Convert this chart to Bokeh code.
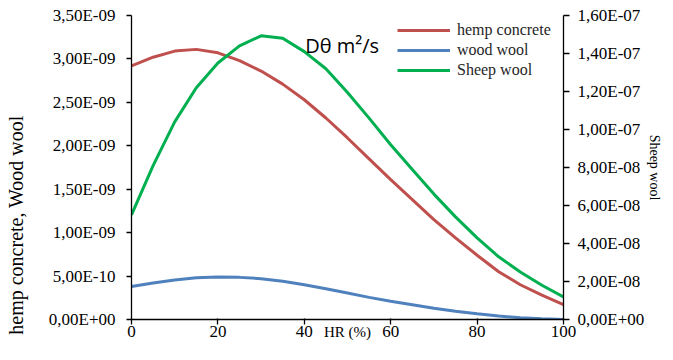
import numpy as np
from bokeh.plotting import figure
from bokeh.models import (Range1d, LinearAxis, FixedTicker, CustomJSTickFormatter,
                          Legend, LegendItem, Label)
from bokeh.embed import file_html
from bokeh.resources import INLINE

# ---- data -------------------------------------------------------------
hr = [0, 5, 10, 15, 20, 25, 30, 35, 40, 45, 50, 55, 60, 65, 70, 75, 80, 85, 90, 95, 100]
hemp_concrete = [2.92e-9, 3.02e-9, 3.09e-9, 3.11e-9, 3.07e-9, 2.98e-9, 2.86e-9, 2.71e-9,
                 2.53e-9, 2.32e-9, 2.09e-9, 1.85e-9, 1.61e-9, 1.38e-9, 1.15e-9, 0.94e-9,
                 0.74e-9, 0.55e-9, 0.40e-9, 0.28e-9, 0.17e-9]
wood_wool = [0.38e-9, 0.42e-9, 0.455e-9, 0.48e-9, 0.49e-9, 0.485e-9, 0.47e-9, 0.44e-9,
             0.40e-9, 0.355e-9, 0.305e-9, 0.255e-9, 0.21e-9, 0.17e-9, 0.13e-9, 0.095e-9,
             0.065e-9, 0.04e-9, 0.02e-9, 0.008e-9, 0.0]
sheep_wool = [5.51e-8, 8.1e-8, 10.4e-8, 12.2e-8, 13.5e-8, 14.4e-8, 14.93e-8, 14.8e-8,
              14.1e-8, 13.2e-8, 11.95e-8, 10.6e-8, 9.2e-8, 7.9e-8, 6.6e-8, 5.4e-8,
              4.3e-8, 3.3e-8, 2.5e-8, 1.8e-8, 1.19e-8]

x_ticks = [0, 20, 40, 60, 80, 100]
left_ticks = [0, 0.5e-9, 1.0e-9, 1.5e-9, 2.0e-9, 2.5e-9, 3.0e-9, 3.5e-9]
right_ticks = [0, 2e-8, 4e-8, 6e-8, 8e-8, 10e-8, 12e-8, 14e-8, 16e-8]

series_names = ["hemp concrete", "wood wool", "Sheep wool"]
series_colors = ["#C0504D", "#4F81BD", "#00B050"]

title_text = "D\u03b8 m\u00b2/s"
x_label = "HR (%)"
left_label = "hemp concrete,  Wood wool"
right_label = "Sheep wool"

SERIF = "Liberation Serif"

# ---- figure -----------------------------------------------------------
p = figure(width=665, height=344, output_backend="svg", toolbar_location=None,
           x_range=Range1d(0, 100), y_range=Range1d(0, 3.5e-9),
           min_border_left=131, min_border_right=101, min_border_top=15,
           min_border_bottom=25)
p.extra_y_ranges = {"sheep": Range1d(0, 1.6e-7)}
p.outline_line_color = None
p.xgrid.visible = False
p.ygrid.visible = False
p.background_fill_color = "white"
p.border_fill_color = "white"

fmt = CustomJSTickFormatter(code="""
const s = tick.toExponential(2);
const parts = s.split('e');
const ei = parseInt(parts[1]);
const sign = ei < 0 ? '-' : '+';
const ea = Math.abs(ei).toString().padStart(2, '0');
return parts[0].replace('.', ',') + 'E' + sign + ea;
""")

def style_axis(ax):
    ax.axis_line_color = "black"
    ax.axis_line_width = 1.3
    ax.major_tick_line_color = "black"
    ax.major_tick_line_width = 1.3
    ax.minor_tick_line_color = None
    ax.major_label_text_font = SERIF
    ax.major_label_text_font_size = "17px"
    ax.major_label_text_color = "black"
    ax.axis_label_text_font = SERIF
    ax.axis_label_text_font_style = "normal"
    ax.axis_label_text_color = "black"

# bottom axis
xa = p.xaxis[0]
style_axis(xa)
xa.ticker = FixedTicker(ticks=x_ticks)
xa.major_tick_in = 1
xa.major_tick_out = 5
xa.major_label_standoff = 1
xa.axis_label = x_label
xa.axis_label_text_font_size = "15px"
xa.axis_label_standoff = -16

# left axis
ya = p.yaxis[0]
style_axis(ya)
ya.ticker = FixedTicker(ticks=left_ticks)
ya.formatter = fmt
ya.major_tick_in = 0
ya.major_tick_out = 5
ya.major_label_standoff = 11
# trailing no-break spaces shift the visible words toward the bottom, as in the source
ya.axis_label = left_label + "\u00a0" * 22
ya.axis_label_text_font_size = "20px"
ya.axis_label_standoff = 19

# right axis
ra = LinearAxis(y_range_name="sheep")
style_axis(ra)
ra.ticker = FixedTicker(ticks=right_ticks)
ra.formatter = fmt
ra.major_tick_in = 0
ra.major_tick_out = 6
ra.major_label_standoff = 8
ra.axis_label = right_label
ra.axis_label_text_font_size = "14px"
ra.axis_label_standoff = 0
p.add_layout(ra, "right")

# ---- lines ------------------------------------------------------------
r1 = p.line(hr, hemp_concrete, line_color=series_colors[0], line_width=3)
r2 = p.line(hr, wood_wool, line_color=series_colors[1], line_width=3)
r3 = p.line(hr, sheep_wool, line_color=series_colors[2], line_width=3, y_range_name="sheep")

legend = Legend(items=[LegendItem(label=series_names[0], renderers=[r1]),
                       LegendItem(label=series_names[1], renderers=[r2]),
                       LegendItem(label=series_names[2], renderers=[r3])],
                location=(266, 239), orientation="vertical",
                border_line_color=None, background_fill_alpha=0,
                padding=0, margin=0, spacing=0,
                glyph_width=53, glyph_height=20, label_height=20,
                label_standoff=7,
                label_text_font=SERIF, label_text_font_size="16px",
                label_text_color="#262626")
p.add_layout(legend)

# ---- title ------------------------------------------------------------
p.add_layout(Label(x=40.2, y=3.155e-9, text=title_text, text_font="Open Sans",
                   text_font_size="20px", text_baseline="middle", text_align="left",
                   text_color="black"))

open("out.html", "w").write(file_html(p, INLINE))
